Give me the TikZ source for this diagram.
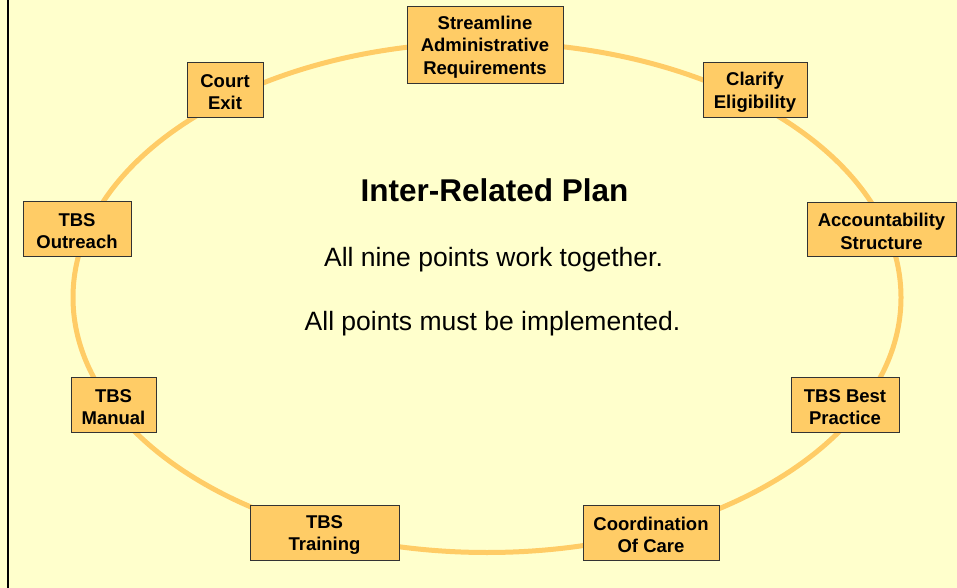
\documentclass[tikz,border=0pt]{standalone}
\usepackage{fontspec}
\setmainfont{Liberation Sans}
\definecolor{bgyellow}{HTML}{FFFFCC}
\definecolor{boxorange}{HTML}{FFCC66}
\definecolor{ringorange}{HTML}{FFCC66}
\begin{document}
\begin{tikzpicture}[x=1bp,y=-1bp,
  box/.style={draw=black!80, line width=0.9bp, fill=boxorange, inner sep=0pt},
  boxtext/.style={inner sep=0pt, align=center, font=\fontsize{18.5bp}{22.6bp}\selectfont\bfseries},
  ring/.style={draw=ringorange, line width=5bp},
  titletext/.style={anchor=base, font=\fontsize{31.5bp}{36bp}\selectfont\bfseries},
  bodytext/.style={anchor=base, font=\fontsize{26.5bp}{31bp}\selectfont}]
  \fill[bgyellow] (0,0) rectangle (957,588);
  \useasboundingbox (0,0) rectangle (957,588);
  \draw[black, line width=2bp] (8.3,0) -- (8.3,588);
  \draw[ring] (487,297.5) ellipse [x radius=414, y radius=255];
  \node[box, minimum width=156bp, minimum height=77bp] (stream) at (485,44.5) {};
  \node[box, minimum width=76bp, minimum height=55bp] (court) at (225,89.5) {};
  \node[box, minimum width=104bp, minimum height=55bp] (clarify) at (755,89.5) {};
  \node[box, minimum width=108bp, minimum height=55bp] (outreach) at (77,228.5) {};
  \node[box, minimum width=149bp, minimum height=54bp] (account) at (881.5,229) {};
  \node[box, minimum width=85bp, minimum height=55bp] (manual) at (113.5,404.5) {};
  \node[box, minimum width=108bp, minimum height=55bp] (best) at (845,404.5) {};
  \node[box, minimum width=149bp, minimum height=55bp] (training) at (324.5,532.5) {};
  \node[box, minimum width=136bp, minimum height=55bp] (coord) at (651,532.5) {};
  \node[boxtext] (streamT) at ([yshift=-2.5bp]stream.center) {Streamline\\Administrative\\Requirements};
  \node[boxtext] (courtT) at ([yshift=-2.5bp]court.center) {Court\\Exit};
  \node[boxtext] (clarifyT) at ([yshift=-2.5bp]clarify.center) {Clarify\\Eligibility};
  \node[boxtext] (outreachT) at ([yshift=-2.5bp]outreach.center) {TBS\\Outreach};
  \node[boxtext] (accountT) at ([yshift=-2.5bp]account.center) {Accountability\\Structure};
  \node[boxtext] (manualT) at ([yshift=-2.5bp]manual.center) {TBS\\Manual};
  \node[boxtext] (bestT) at ([yshift=-2.5bp]best.center) {TBS Best\\Practice};
  \node[boxtext] (trainingT) at ([yshift=-2.5bp]training.center) {TBS\\Training};
  \node[boxtext] (coordT) at ([yshift=-2.5bp]coord.center) {Coordination\\Of Care};
  \node[titletext] (title) at (494.5,202) {Inter-Related Plan};
  \node[bodytext] (line1) at (493.5,267) {All nine points work together.};
  \node[bodytext] (line2) at (492.5,330) {All points must be implemented.};
\end{tikzpicture}
\end{document}
